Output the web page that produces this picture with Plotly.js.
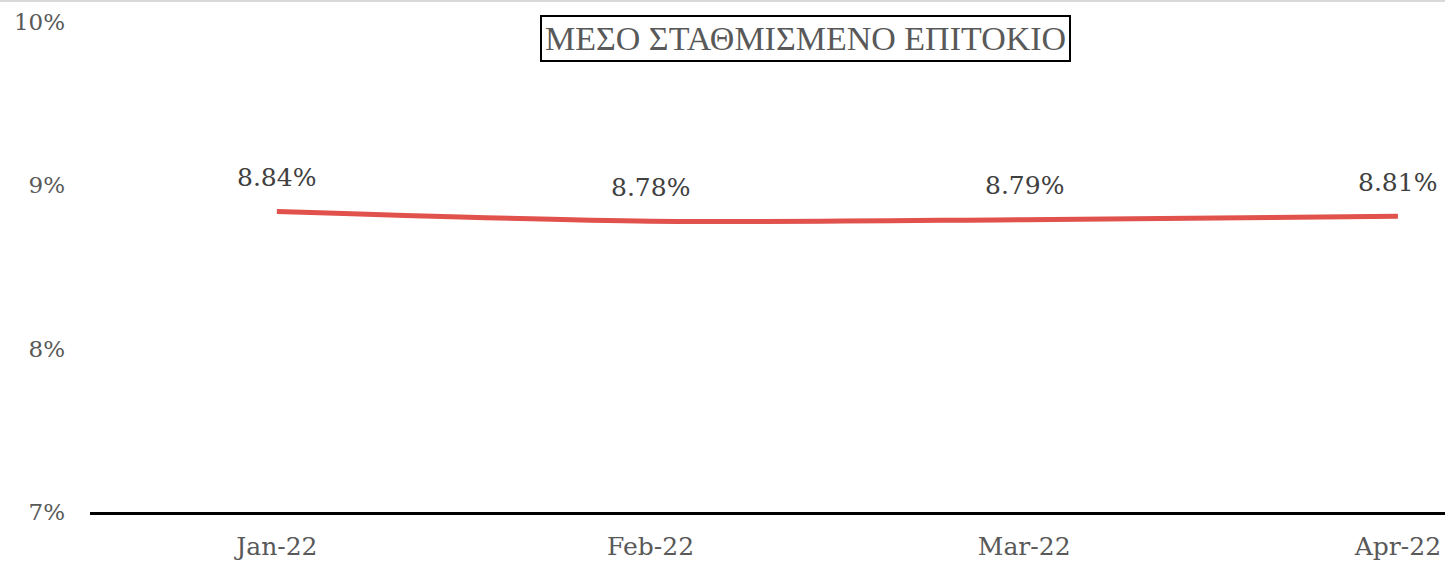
<!DOCTYPE html>
<html>
<head>
<meta charset="utf-8">
<script src="https://cdn.plot.ly/plotly-3.0.1.min.js"></script>
<style>html,body{margin:0;padding:0;background:#fff;}#chart{width:1445px;height:563px;}</style>
</head>
<body>
<div id="chart"></div>
<script>
const months = ["Jan-22", "Feb-22", "Mar-22", "Apr-22"];
const rates = [8.84, 8.78, 8.79, 8.81];
const labels = ["8.84%", "8.78%", "8.79%", "8.81%"];
const yTicks = [7, 8, 9, 10];
const yTickText = ["7%", "8%", "9%", "10%"];
const chartTitle = "ΜΕΣΟ ΣΤΑΘΜΙΣΜΕΝΟ ΕΠΙΤΟΚΙΟ";

const serif = "DejaVu Serif, Liberation Serif, serif";
const titleSerif = "Liberation Serif, serif";

const trace = {
  x: months,
  y: rates,
  type: "scatter",
  mode: "lines",
  line: {color: "#E0524B", width: 5, shape: "spline", smoothing: 0.8},
  hoverinfo: "skip"
};

const labelAnns = months.map((m, i) => ({
  x: m, y: rates[i], xref: "x", yref: "y",
  text: labels[i], showarrow: false, yshift: 34,
  font: {family: serif, size: 25, color: "#404040"}
}));

const layout = {
  width: 1445, height: 563,
  margin: {l: 90, r: 0, t: 22, b: 51},
  paper_bgcolor: "#fff", plot_bgcolor: "#fff",
  showlegend: false,
  xaxis: {
    type: "category",
    range: [-0.5, 3.126],
    showgrid: false, zeroline: false,
    showline: true, linecolor: "#000", linewidth: 3,
    ticks: "", ticklabelstandoff: 10,
    tickfont: {family: serif, size: 25, color: "#595959"}
  },
  yaxis: {
    range: [7, 10],
    tickvals: yTicks, ticktext: yTickText,
    showgrid: false, zeroline: false, showline: false,
    ticks: "", ticklabelstandoff: 24,
    tickfont: {family: serif, size: 23, color: "#595959"}
  },
  shapes: [{
    type: "line", xref: "paper", yref: "paper",
    x0: -0.0664, x1: 1, y0: 1.0429, y1: 1.0429,
    line: {color: "#d9d9d9", width: 2}
  }],
  annotations: labelAnns.concat([{
    xref: "paper", yref: "paper", x: 0.528, y: 0.966,
    xanchor: "center", yanchor: "middle",
    text: chartTitle, showarrow: false,
    font: {family: titleSerif, size: 34, color: "#595959"},
    bordercolor: "#000", borderwidth: 2, borderpad: 3, bgcolor: "#fff"
  }])
};

Plotly.newPlot("chart", [trace], layout, {displayModeBar: false, staticPlot: true});
</script>
</body>
</html>
